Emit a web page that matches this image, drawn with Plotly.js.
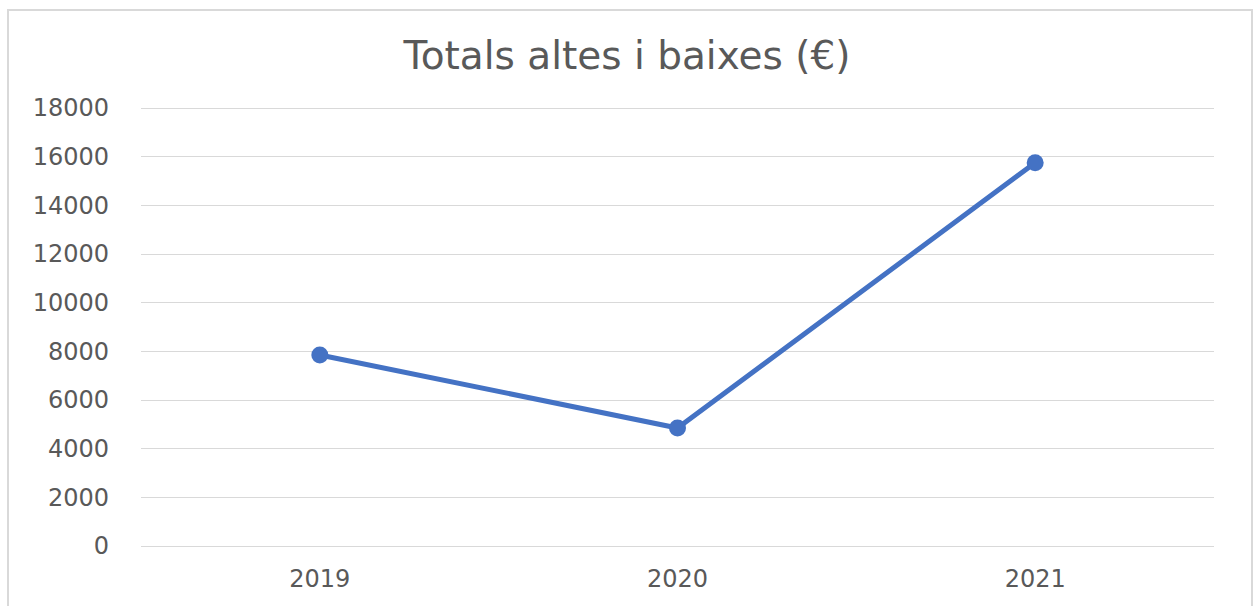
<!DOCTYPE html>
<html>
<head>
<meta charset="utf-8">
<script src="https://cdn.plot.ly/plotly-3.0.1.min.js"></script>
<style>
html,body{margin:0;padding:0;background:#fff;overflow:hidden;}
#chart{position:absolute;left:0;top:0;width:1254px;height:606px;}
#frame{position:absolute;left:7px;top:9px;width:1242px;height:620px;border:2px solid #d9d9d9;pointer-events:none;}
</style>
</head>
<body>
<div id="chart"></div>
<div id="frame"></div>
<script>
const years = ["2019", "2020", "2021"];
const totals = [7850, 4850, 15750];
const yTicks = [0, 2000, 4000, 6000, 8000, 10000, 12000, 14000, 16000, 18000];

const trace = {
  x: years,
  y: totals,
  type: "scatter",
  mode: "lines+markers",
  line: {color: "#4472C4", width: 5},
  marker: {color: "#4472C4", size: 17},
  hoverinfo: "x+y"
};

const layout = {
  width: 1254,
  height: 606,
  margin: {l: 141, r: 40, t: 105, b: 57},
  paper_bgcolor: "#ffffff",
  plot_bgcolor: "#ffffff",
  showlegend: false,
  font: {family: "DejaVu Sans, sans-serif", color: "#595959", size: 22},
  title: {
    text: "Totals altes i baixes (€)",
    font: {family: "DejaVu Sans, sans-serif", size: 39, color: "#595959"},
    x: 0.5, xref: "container", xanchor: "center",
    y: 1 - 55/606, yref: "container", yanchor: "middle"
  },
  xaxis: {
    type: "category",
    range: [-0.5, 2.5],
    showgrid: false,
    zeroline: false,
    showline: false,
    ticks: "",
    ticklabelstandoff: 13,
    tickfont: {size: 24, color: "#595959"}
  },
  yaxis: {
    range: [-123.3, 18123.3],
    tickvals: yTicks,
    ticktext: yTicks.map(String),
    showgrid: true,
    gridcolor: "#d9d9d9",
    gridwidth: 1,
    zeroline: false,
    showline: false,
    ticks: "",
    ticklabelstandoff: 31,
    tickfont: {size: 24, color: "#595959"}
  }
};

Plotly.newPlot("chart", [trace], layout, {displayModeBar: false, staticPlot: true});
</script>
</body>
</html>
